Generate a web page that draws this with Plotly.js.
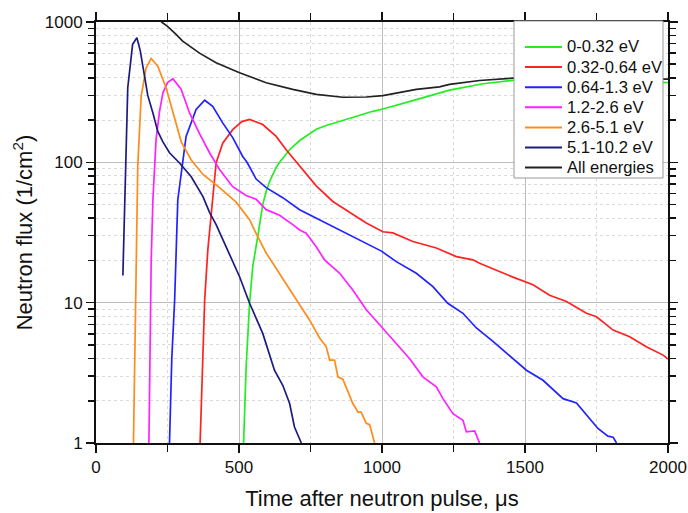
<!DOCTYPE html>
<html>
<head>
<meta charset="utf-8">
<script src="https://cdn.plot.ly/plotly-3.0.1.min.js"></script>
<style>html,body{margin:0;padding:0;background:#fff;}#chart{width:688px;height:513px;}</style>
</head>
<body>
<div id="chart"></div>
<script>
// Series names
const seriesNames = ["0-0.32 eV", "0.32-0.64 eV", "0.64-1.3 eV", "1.2-2.6 eV", "2.6-5.1 eV", "5.1-10.2 eV", "All energies"];

// 0-0.32 eV
const tGreen = [516, 525, 537, 548, 566, 583, 595, 607, 630, 642, 677, 712, 747, 770, 805, 887, 968, 1003, 1061, 1120, 1236, 1353, 1458, 1550, 1700, 1850, 2000];
const vGreen = [1, 3.49, 9.9, 18.1, 30, 50, 62, 73, 92, 100, 123, 143, 160, 172, 183, 207, 231, 240, 258, 280, 327, 363, 384, 388, 385, 378, 370];

// 0.32-0.64 eV
const tRed = [364, 372, 380, 391, 408, 420, 443, 478, 510, 537, 583, 630, 665, 712, 770, 828, 887, 945, 1003, 1038, 1108, 1190, 1260, 1318, 1341, 1388, 1458, 1528, 1586, 1645, 1715, 1750, 1808, 1866, 1924, 1983, 2000];
const vRed = [1, 4, 10.5, 23.8, 54, 99, 137, 171, 195, 202, 186, 153, 123, 93.6, 68, 52.6, 44, 37, 32, 31.4, 27.3, 24.5, 21.3, 20.2, 19.1, 17.4, 15.2, 13.4, 11.3, 10.2, 8.4, 7.94, 6.38, 5.72, 4.85, 4.23, 3.96];

// 0.64-1.3 eV
const tBlue = [257, 265, 275, 286, 292, 315, 350, 380, 408, 443, 478, 513, 528, 560, 595, 653, 712, 770, 828, 898, 945, 998, 1050, 1120, 1178, 1230, 1283, 1330, 1388, 1446, 1505, 1563, 1633, 1680, 1715, 1755, 1790, 1808, 1820];
const vBlue = [1, 4, 10.5, 54, 67, 153, 238, 277, 251, 191, 150, 110, 100, 76, 66, 56, 46, 40, 35, 29.6, 26.5, 23.3, 19.6, 16.2, 13, 9.9, 8.4, 6.6, 5.3, 4.2, 3.3, 2.8, 2.07, 1.93, 1.58, 1.27, 1.12, 1.1, 1];

// 1.2-2.6 eV
const tMagenta = [185, 189, 193, 199, 210, 222, 234, 250, 269, 298, 327, 362, 397, 432, 478, 525, 560, 595, 642, 688, 712, 735, 770, 799, 852, 898, 945, 998, 1050, 1096, 1143, 1190, 1213, 1248, 1283, 1295, 1324, 1341];
const vMagenta = [1, 4, 20, 54, 145, 230, 313, 370, 394, 331, 225, 160, 117, 89, 67, 58, 54.5, 46, 42, 36, 33, 31.3, 25, 20.2, 16.2, 12.3, 8.9, 6.74, 5.13, 4.0, 2.96, 2.51, 2.07, 1.62, 1.45, 1.2, 1.22, 1];

// 2.6-5.1 eV
const tOrange = [131, 136, 140, 146, 158, 175, 193, 216, 245, 269, 298, 333, 374, 432, 490, 537, 560, 595, 618, 677, 712, 747, 782, 805, 817, 834, 846, 863, 898, 916, 927, 945, 957, 974];
const vOrange = [1, 5, 22, 94, 296, 470, 550, 485, 340, 230, 140, 104, 82, 66, 52, 39, 31, 22.6, 19.1, 12.3, 9.6, 7.5, 5.6, 4.85, 3.9, 3.9, 2.96, 2.85, 1.91, 1.66, 1.66, 1.38, 1.35, 1];

// 5.1-10.2 eV
const tNavy = [94, 104, 111, 128, 143, 155, 168, 181, 199, 216, 234, 257, 292, 333, 374, 397, 420, 467, 502, 537, 583, 624, 653, 677, 694, 718];
const vNavy = [15.6, 100, 340, 693, 773, 620, 420, 300, 225, 166, 140, 117, 99, 79, 57, 44, 36, 22, 15.3, 9.9, 6.04, 3.3, 2.58, 1.91, 1.3, 1.0];

// All energies
const tAll = [228, 250, 280, 303, 362, 420, 502, 595, 688, 770, 863, 945, 1003, 1120, 1201, 1236, 1341, 1435, 1458, 1600, 1800, 2000];
const vAll = [1005, 930, 817, 730, 600, 513, 435, 369, 331, 305, 291, 292, 299, 331, 345, 359, 383, 396, 398, 400, 397, 392];

// Axis tick labels
const xTickVals = [0, 500, 1000, 1500, 2000];
const xTickText = ["0", "500", "1000", "1500", "2000"];
const yTickVals = [1, 10, 100, 1000];
const yTickText = ["1", "10", "100", "1000"];

const colors = ["#22ee22", "#ff2222", "#2222ff", "#ff22ff", "#ff8c1a", "#1c1c80", "#222222"];
const xs = [tGreen, tRed, tBlue, tMagenta, tOrange, tNavy, tAll];
const ys = [vGreen, vRed, vBlue, vMagenta, vOrange, vNavy, vAll];

const traces = seriesNames.map((name, i) => ({
  x: xs[i], y: ys[i], name: name, type: 'scatter', mode: 'lines',
  line: {color: colors[i], width: 1.7}, showlegend: false
}));

const font = "Liberation Sans, Arial, sans-serif";

// Plot area geometry (px) used to place the legend box in paper coordinates
const W = 688, H = 513, ML = 96, MR = 20, MT = 22, MB = 70;
const PW = W - ML - MR, PH = H - MT - MB;
const px = v => (v - ML) / PW;
const py = v => 1 - (v - MT) / PH;

const shapes = [{
  type: 'rect', xref: 'paper', yref: 'paper',
  x0: px(514), x1: px(663), y0: py(178), y1: py(21),
  line: {color: '#999', width: 1}, fillcolor: '#fff', layer: 'above'
}];
const annotations = [];
seriesNames.forEach((name, i) => {
  const yy = 47 + 20.1 * i;
  shapes.push({
    type: 'line', xref: 'paper', yref: 'paper',
    x0: px(525), x1: px(562), y0: py(yy), y1: py(yy),
    line: {color: colors[i], width: 2}, layer: 'above'
  });
  annotations.push({
    xref: 'paper', yref: 'paper', x: px(565), y: py(yy),
    xanchor: 'left', yanchor: 'middle', showarrow: false,
    text: name, font: {family: font, size: 16.6, color: '#111'}
  });
});

const layout = {
  width: W, height: H,
  margin: {l: ML, r: MR, t: MT, b: MB},
  paper_bgcolor: '#fff', plot_bgcolor: '#fff',
  font: {family: font, size: 17, color: '#111'},
  showlegend: false,
  shapes: shapes,
  annotations: annotations,
  xaxis: {
    range: [0, 2000], tickvals: xTickVals, ticktext: xTickText,
    showline: true, linecolor: '#111', linewidth: 2, mirror: 'ticks',
    ticks: 'outside', ticklen: 8, tickwidth: 1.5, tickcolor: '#111',
    showgrid: true, gridcolor: '#bdbdbd', gridwidth: 1, zeroline: false,
    minor: {dtick: 250, ticks: 'outside', ticklen: 7, tickwidth: 1.5, tickcolor: '#111', showgrid: true, gridcolor: '#dadada', griddash: 'dot', gridwidth: 1},
    title: {text: 'Time after neutron pulse, μs', font: {family: font, size: 22, color: '#111'}, standoff: 14},
    tickfont: {family: font, size: 17, color: '#111'}
  },
  yaxis: {
    type: 'log', range: [0, 3], tickvals: yTickVals, ticktext: yTickText,
    showline: true, linecolor: '#111', linewidth: 2, mirror: 'ticks',
    ticks: 'outside', ticklen: 8, tickwidth: 1.5, tickcolor: '#111',
    showgrid: true, gridcolor: '#bdbdbd', gridwidth: 1, zeroline: false,
    minor: {dtick: 'D1', ticks: 'outside', ticklen: 6, tickwidth: 1.5, tickcolor: '#111', showgrid: true, gridcolor: '#dadada', griddash: 'dot', gridwidth: 1},
    title: {text: 'Neutron flux (1/cm<sup>2</sup>)', font: {family: font, size: 22, color: '#111'}, standoff: 6},
    tickfont: {family: font, size: 17, color: '#111'}
  }
};

Plotly.newPlot('chart', traces, layout, {displayModeBar: false, staticPlot: true});
</script>
</body>
</html>
